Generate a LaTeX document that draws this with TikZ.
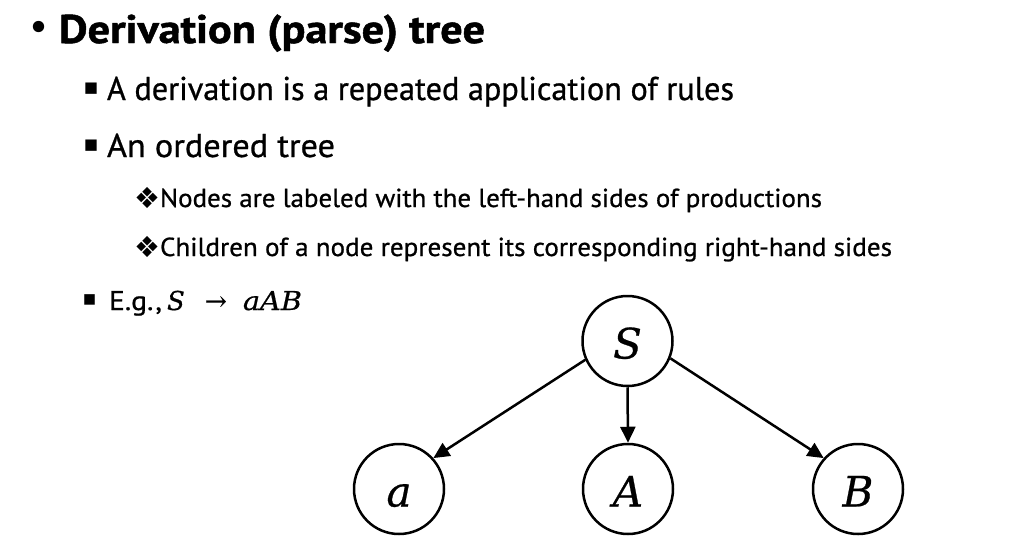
\documentclass[tikz,border=0pt]{standalone}
\usepackage{fontspec}
\usepackage{graphicx}
\setmainfont{PT Sans}[FakeBold=0.8,BoldFeatures={FakeBold=1.2}]
\newfontfamily\symf{DejaVu Sans}
\newfontfamily\mathf{DejaVu Serif}[FakeBold=0.6]
\usetikzlibrary{arrows.meta}
\begin{document}
\begin{tikzpicture}[x=1pt,y=-1pt,
  txt/.style={anchor=base west,inner sep=0pt,outer sep=0pt},
  sym/.style={anchor=center,inner sep=0pt,outer sep=0pt},
  tnode/.style={circle,draw,line width=2.5pt,minimum size=90pt,inner sep=0pt,
    text height=35pt,text depth=0pt,font=\mathf\itshape\fontsize{42}{46}\selectfont},
  edge/.style={line width=2.5pt,-{Triangle[length=16pt,width=15pt]}}]
\useasboundingbox (0,0) rectangle (1028,547);
% title
\node[sym] (b0) at (39,31) {\symf\resizebox{23pt}{!}{•}};
\node[txt] (title) at (59,43) {\fontsize{40}{48}\selectfont\bfseries\resizebox{426pt}{\height}{Derivation (parse) tree}};
% level 2
\node[sym] (b1) at (91,88.5) {\symf\resizebox{14pt}{!}{■}};
\node[txt] (l1) at (107,100) {\fontsize{33}{40}\selectfont\resizebox{627pt}{\height}{A derivation is a repeated application of rules}};
\node[sym] (b2) at (91,145.5) {\symf\resizebox{14pt}{!}{■}};
\node[txt] (l2) at (107,157) {\fontsize{33}{40}\selectfont\resizebox{228pt}{\height}{An ordered tree}};
% level 3
\node[sym] (b3) at (147,197.5) {\symf\resizebox{26pt}{!}{❖}};
\node[txt] (l3) at (160,207) {\fontsize{26}{32}\selectfont\resizebox{662pt}{\height}{Nodes are labeled with the left-hand sides of productions}};
\node[sym] (b4) at (147,246.5) {\symf\resizebox{26pt}{!}{❖}};
\node[txt] (l4) at (160,256) {\fontsize{26}{32}\selectfont\resizebox{732pt}{\height}{Children of a node represent its corresponding right-hand sides}};
% e.g.
\node[sym] (b5) at (89.5,300) {\symf\resizebox{13pt}{!}{■}};
\node[txt] (l5) at (109,310) {\fontsize{27}{32}\selectfont
  \makebox[58pt][l]{\resizebox{53pt}{\height}{E.g.,}}%
  \makebox[38pt][l]{\mathf\itshape\fontsize{26}{30}\selectfont S}%
  \makebox[38pt][l]{\mathf\fontsize{26}{30}\selectfont →}%
  {\mathf\itshape\fontsize{26}{30}\selectfont\resizebox{59pt}{\height}{aAB}}};
% tree
\node[tnode] (S) at (627.5,341) {S};
\node[tnode] (a) at (399,489) {a};
\node[tnode] (A) at (628,489) {A};
\node[tnode] (B) at (858,489) {B};
\draw[edge] (S.204) -- (a.42);
\draw[edge] (S.south) -- (A.north);
\draw[edge] (S.-22) -- (B.138);
\end{tikzpicture}
\end{document}
